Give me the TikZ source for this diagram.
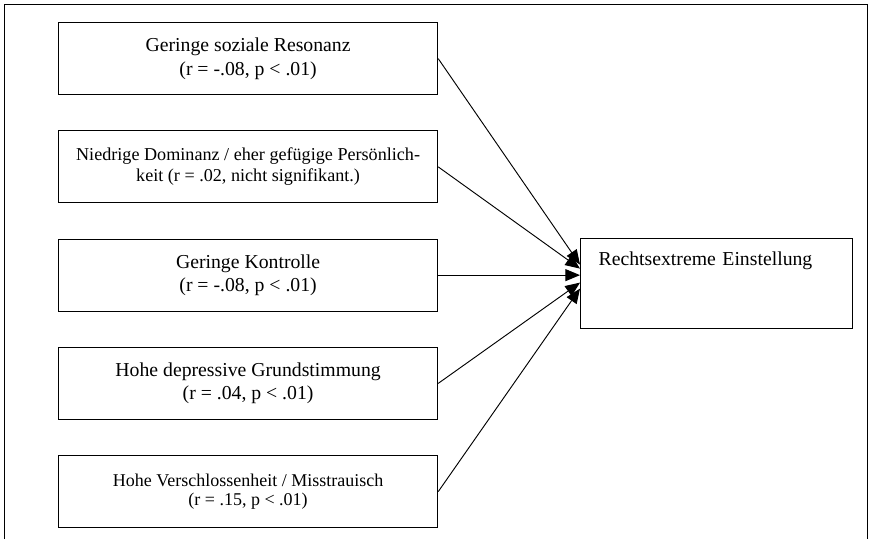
\documentclass[tikz,border=0pt]{standalone}
\usepackage{fontspec}
\setmainfont{Liberation Serif}
\usetikzlibrary{positioning}
\usetikzlibrary{arrows.meta}

\begin{document}
\begin{tikzpicture}[x=0.75pt,y=-0.75pt,
      faktor style/.style={rectangle,draw=black,line width=0.9pt,minimum
        width=284.25pt,minimum height=54pt,align=center,inner sep=2pt,
        font=\fontsize{14.8}{17.5}\selectfont},
      klein style/.style={faktor style,font=\fontsize{13.6}{15.5}\selectfont},
      ziel style/.style={rectangle,draw=black,line width=0.9pt,text
        width=177pt,align=left,inner xsep=13.5pt,inner ysep=0pt,
        text height=20.25pt,text depth=47.25pt,
        font=\fontsize{14.8}{17.5}\selectfont},
      pfeil/.style={-{Triangle[length=11pt,width=9pt]},line width=0.7pt}
      ]
      \useasboundingbox (0,0) rectangle (870,539);
      \draw[line width=1.2pt] (4.5,539) -- (4.5,4.5) -- (867.5,4.5) -- (867.5,539);

      \node[faktor style, anchor=north west] (resonanz) at (58,22) {Geringe soziale Resonanz\\(r = -.08, p < .01)};
      \node[klein style, below=26.3pt of resonanz] (dominanz) {Niedrige Dominanz / eher gefügige Persönlich-\\keit (r = .02, nicht signifikant.)};
      \node[faktor style, below=26.3pt of dominanz] (kontrolle) {Geringe Kontrolle\\(r = -.08, p < .01)};
      \node[faktor style, below=26.3pt of kontrolle] (depressiv) {Hohe depressive Grundstimmung\\(r = .04, p < .01)};
      \node[klein style, below=26.3pt of depressiv, font=\fontsize{13.5}{14.5}\selectfont] (verschlossen) {Hohe Verschlossenheit / Misstrauisch\\(r = .15, p < .01)};

      \node[ziel style, anchor=north west] (einstellung) at (580,238) {Rechtsextreme Einstellung};

      \draw[pfeil] (resonanz.east) -- ([yshift=14.25pt]einstellung.west);
      \draw[pfeil] (dominanz.east) -- ([yshift=11.25pt]einstellung.west);
      \draw[pfeil] (kontrolle.east) -- (kontrolle.east -| einstellung.west);
      \draw[pfeil] (depressiv.east) -- ([yshift=0.75pt]einstellung.west);
      \draw[pfeil] (verschlossen.east) -- ([yshift=-3.75pt]einstellung.west);
    \end{tikzpicture}
\end{document}
